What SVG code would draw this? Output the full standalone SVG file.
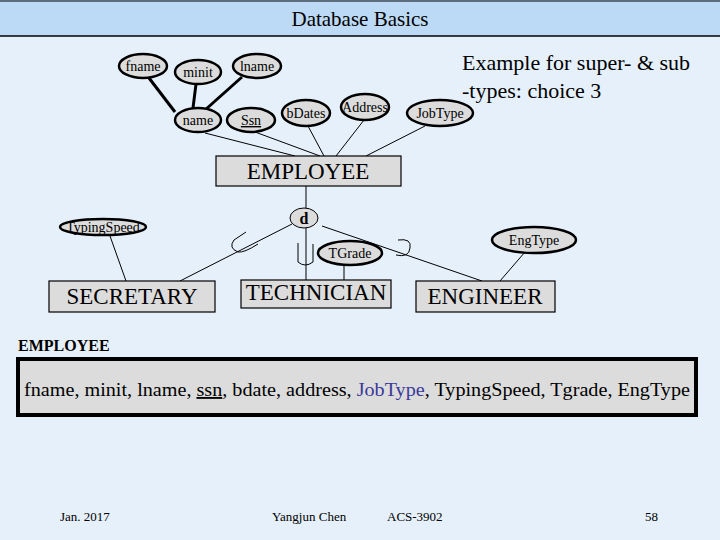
<svg xmlns="http://www.w3.org/2000/svg" width="720" height="540" viewBox="0 0 720 540" font-family="'Liberation Serif','Times New Roman',serif">
<style>
text{font-family:'Liberation Serif','Times New Roman',serif;fill:#000}
.at{fill:#dcdcdc;stroke:#000;stroke-width:2.5}
.ent{fill:#dcdcdc;stroke:#000;stroke-width:1.2}
.thin{stroke:#000;stroke-width:1;fill:none}
.thick{stroke:#000;stroke-width:3;fill:none}
.s{font-size:14px;text-anchor:middle}
.e{font-size:23px;text-anchor:middle}
</style>
<rect width="720" height="540" fill="#e6f0fb"/>
<rect x="0" y="0" width="720" height="36" fill="#bcdaf5"/>
<line x1="0" y1="36" x2="720" y2="36" stroke="#000" stroke-width="1.5"/>
<line x1="0" y1="1" x2="720" y2="1" stroke="#000" stroke-width="1"/>
<text x="360" y="26" font-size="21" text-anchor="middle">Database Basics</text>
<text x="462" y="70" font-size="22">Example for super- &amp; sub</text>
<text x="462" y="98" font-size="22">-types: choice 3</text>
<g id="connectors">
<line class="thick" x1="149" y1="78" x2="175" y2="112"/>
<line class="thick" x1="196" y1="84" x2="193" y2="108"/>
<line class="thick" x1="242" y1="77" x2="205" y2="110"/>
<line class="thin" x1="205" y1="133" x2="295" y2="156"/>
<line class="thin" x1="255" y1="132" x2="320" y2="156"/>
<line class="thin" x1="308" y1="126" x2="324" y2="156"/>
<line class="thin" x1="364" y1="120" x2="336" y2="156"/>
<line class="thin" x1="425" y1="126" x2="366" y2="156"/>
<line class="thin" x1="306" y1="186" x2="306" y2="208"/>
<line class="thin" x1="306" y1="228" x2="306" y2="280"/>
<line class="thin" x1="292" y1="224" x2="180" y2="281"/>
<line class="thin" x1="322" y1="226" x2="482" y2="281"/>
<line class="thin" x1="110" y1="236" x2="126" y2="281"/>
<line class="thin" x1="344" y1="265" x2="344" y2="280"/>
<line class="thin" x1="525" y1="252" x2="500" y2="281"/>
<path class="thin" d="M246 232 L234 240 Q228 248 238 252 Q244 253 258 244"/>
<path class="thin" d="M298 243 L298 262 Q305 268 313 262 L313 244"/>
<path class="thin" d="M398 240 Q412 238 410 248 Q409 258 396 255"/>
</g>
<g id="fname"><ellipse class="at" cx="143" cy="66" rx="24" ry="12"/><text class="s" x="143" y="71">fname</text></g>
<g id="minit"><ellipse class="at" cx="198" cy="72" rx="23" ry="12"/><text class="s" x="198" y="77">minit</text></g>
<g id="lname"><ellipse class="at" cx="257" cy="66" rx="24" ry="12"/><text class="s" x="257" y="71">lname</text></g>
<g id="name"><ellipse class="at" cx="198" cy="120" rx="23" ry="12"/><text class="s" x="198" y="125">name</text></g>
<g id="ssn"><ellipse class="at" cx="251" cy="120" rx="24" ry="12"/><text class="s" x="251" y="125" text-decoration="underline">Ssn</text></g>
<g id="bdates"><ellipse class="at" cx="306" cy="113" rx="24" ry="13"/><text class="s" x="306" y="118">bDates</text></g>
<g id="address"><ellipse class="at" cx="365" cy="107" rx="24" ry="13"/><text class="s" x="365" y="112">Address</text></g>
<g id="jobtype"><ellipse class="at" cx="440" cy="113" rx="33" ry="13"/><text class="s" x="440" y="118">JobType</text></g>
<g id="employee"><rect class="ent" x="216" y="156" width="185" height="30"/><text class="e" x="308" y="179">EMPLOYEE</text></g>
<g id="d"><ellipse fill="#dcdcdc" stroke="#000" cx="304" cy="218" rx="14" ry="10"/><text x="304" y="224" font-size="16" text-anchor="middle" font-weight="bold">d</text></g>
<g id="typingspeed"><ellipse class="at" cx="103" cy="227" rx="43" ry="8"/><text class="s" x="103" y="232">TypingSpeed</text></g>
<g id="tgrade"><ellipse class="at" cx="350" cy="253" rx="32" ry="12"/><text class="s" x="350" y="258">TGrade</text></g>
<g id="engtype"><ellipse class="at" cx="534" cy="240" rx="42" ry="13"/><text class="s" x="534" y="245">EngType</text></g>
<g id="secretary"><rect class="ent" x="49" y="281" width="166" height="31"/><text class="e" x="132" y="304">SECRETARY</text></g>
<g id="technician"><rect class="ent" x="241" y="280" width="150" height="28"/><text class="e" x="316" y="300">TECHNICIAN</text></g>
<g id="engineer"><rect class="ent" x="416" y="281" width="139" height="31"/><text class="e" x="485" y="304">ENGINEER</text></g>
<g id="relation">
<text x="18" y="351" font-size="16" font-weight="bold">EMPLOYEE</text>
<rect x="18" y="359" width="678" height="56" fill="#dcdcdc" stroke="#000" stroke-width="4"/>
<text x="24" y="396" font-size="18.5" textLength="666" lengthAdjust="spacingAndGlyphs">fname, minit, lname, <tspan text-decoration="underline">ssn</tspan>, bdate, address, <tspan fill="#3a3a9a">JobType</tspan>, TypingSpeed, Tgrade, EngType</text>
</g>
<g font-size="13">
<text x="60" y="521">Jan. 2017</text>
<text x="272" y="521">Yangjun Chen</text>
<text x="387" y="521">ACS-3902</text>
<text x="645" y="521">58</text>
</g>
</svg>
